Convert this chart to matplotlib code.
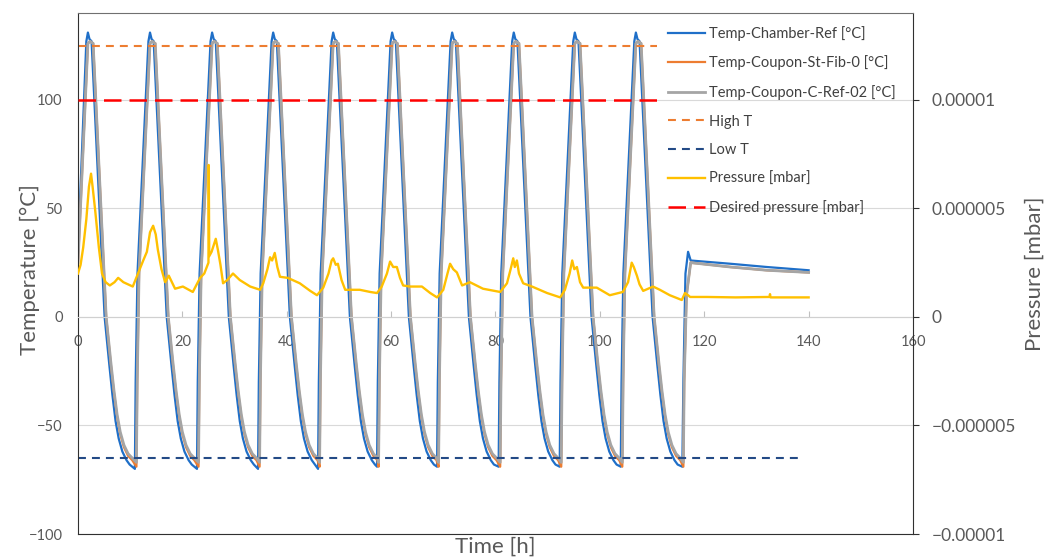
import numpy as np
import matplotlib
matplotlib.use('Agg')
import matplotlib.pyplot as plt

plt.rcParams['font.family'] = ['Lato', 'DejaVu Sans']

# values: time in h, temperature in °C
chamber_t = [0, 1.6, 1.9, 2.2, 2.6, 5.1, 6.0, 6.6, 7.2, 7.8, 8.5, 9.3, 9.9, 10.9,
             11.05, 11.4, 13.5, 13.8, 14.1, 14.5, 17.0, 17.9, 18.5, 19.1, 19.7, 20.4, 21.2, 21.8, 22.8,
             22.95, 23.3, 25.4, 25.7, 26.0, 26.4, 28.9, 29.8, 30.4, 31.0, 31.6, 32.3, 33.1, 33.7, 34.5,
             34.65, 35.0, 37.1, 37.4, 37.7, 38.1, 40.6, 41.5, 42.1, 42.7, 43.3, 44.0, 44.8, 45.4, 46.0,
             46.15, 46.5, 48.6, 48.9, 49.2, 49.6, 52.1, 53.0, 53.6, 54.2, 54.8, 55.5, 56.3, 56.9, 57.3,
             57.45, 57.8, 59.9, 60.2, 60.5, 60.9, 63.4, 64.3, 64.9, 65.5, 66.1, 66.8, 67.6, 68.2, 68.8,
             68.95, 69.3, 71.4, 71.7, 72.0, 72.4, 74.9, 75.8, 76.4, 77.0, 77.6, 78.3, 79.1, 79.7, 80.6,
             80.75, 81.1, 83.2, 83.5, 83.8, 84.2, 86.7, 87.6, 88.2, 88.8, 89.4, 90.1, 90.9, 91.5, 92.3,
             92.45, 92.8, 94.9, 95.2, 95.5, 95.9, 98.4, 99.3, 99.9, 100.5, 101.1, 101.8, 102.6, 103.2, 104.0,
             104.15, 104.5, 106.6, 106.9, 107.2, 107.6, 110.1, 111.0, 111.6, 112.2, 112.8, 113.5, 114.3, 114.9, 115.8,
             116.0, 116.4, 116.9, 117.4, 125, 132, 140]
chamber_temp = [30, 127, 131, 128, 127, 0, -22, -36, -48, -56, -62, -66, -68, -70,
                -30, 20, 127, 131, 128, 127, 0, -22, -36, -48, -56, -62, -66, -68, -70,
                -30, 20, 127, 131, 128, 127, 0, -22, -36, -48, -56, -62, -66, -68, -70,
                -30, 20, 127, 131, 128, 127, 0, -22, -36, -48, -56, -62, -66, -68, -70,
                -30, 20, 127, 131, 128, 127, 0, -22, -36, -48, -56, -62, -66, -68, -69,
                -30, 20, 127, 131, 128, 127, 0, -22, -36, -48, -56, -62, -66, -68, -69,
                -30, 20, 127, 131, 128, 127, 0, -22, -36, -48, -56, -62, -66, -68, -69,
                -30, 20, 127, 131, 128, 127, 0, -22, -36, -48, -56, -62, -66, -68, -69,
                -30, 20, 127, 131, 128, 127, 0, -22, -36, -48, -56, -62, -66, -68, -69,
                -30, 20, 127, 131, 128, 127, 0, -22, -36, -48, -56, -62, -66, -68, -69,
                -30, 20, 30, 26, 24.5, 23, 21.5]

coupon_t = [0, 1.9, 2.3, 2.9, 5.4, 6.3, 6.9, 7.5, 8.1, 8.8, 9.6, 10.4,
            11.2, 11.35, 11.7, 13.8, 14.2, 14.8, 17.3, 18.2, 18.8, 19.4, 20.0, 20.7, 21.5, 22.3,
            23.1, 23.25, 23.6, 25.7, 26.1, 26.7, 29.2, 30.1, 30.7, 31.3, 31.9, 32.6, 33.4, 34.2,
            34.8, 34.95, 35.3, 37.4, 37.8, 38.4, 40.9, 41.8, 42.4, 43.0, 43.6, 44.3, 45.1, 45.9,
            46.3, 46.45, 46.8, 48.9, 49.3, 49.9, 52.4, 53.3, 53.9, 54.5, 55.1, 55.8, 56.6, 57.4,
            57.6, 57.75, 58.1, 60.2, 60.6, 61.2, 63.7, 64.6, 65.2, 65.8, 66.4, 67.1, 67.9, 68.7,
            69.1, 69.25, 69.6, 71.7, 72.1, 72.7, 75.2, 76.1, 76.7, 77.3, 77.9, 78.6, 79.4, 80.2,
            80.9, 81.05, 81.4, 83.5, 83.9, 84.5, 87.0, 87.9, 88.5, 89.1, 89.7, 90.4, 91.2, 92.0,
            92.6, 92.75, 93.1, 95.2, 95.6, 96.2, 98.7, 99.6, 100.2, 100.8, 101.4, 102.1, 102.9, 103.7,
            104.3, 104.45, 104.8, 106.9, 107.3, 107.9, 110.4, 111.3, 111.9, 112.5, 113.1, 113.8, 114.6, 115.4,
            116.0, 116.15, 116.6, 117.4, 125, 132, 140]
st_fib_temp = [25, 126, 127, 126, 0, -22, -35, -46, -54, -60, -64, -66,
               -69, -30, 20, 126, 127, 126, 0, -22, -35, -46, -54, -60, -64, -66,
               -69, -30, 20, 126, 127, 126, 0, -22, -35, -46, -54, -60, -64, -66,
               -69, -30, 20, 126, 127, 126, 0, -22, -35, -46, -54, -60, -64, -66,
               -69, -30, 20, 126, 127, 126, 0, -22, -35, -46, -54, -60, -64, -66,
               -69, -30, 20, 126, 127, 126, 0, -22, -35, -46, -54, -60, -64, -66,
               -69, -30, 20, 126, 127, 126, 0, -22, -35, -46, -54, -60, -64, -66,
               -69, -30, 20, 126, 127, 126, 0, -22, -35, -46, -54, -60, -64, -66,
               -69, -30, 20, 126, 127, 126, 0, -22, -35, -46, -54, -60, -64, -66,
               -69, -30, 20, 126, 127, 126, 0, -22, -35, -46, -54, -60, -64, -66,
               -69, -30, 10, 25, 23, 21.5, 20.5]
c_ref_temp = [25, 126, 127, 126, 0, -21, -34, -45, -53, -59, -63, -65,
              -67, -30, 20, 126, 127, 126, 0, -21, -34, -45, -53, -59, -63, -65,
              -67, -30, 20, 126, 127, 126, 0, -21, -34, -45, -53, -59, -63, -65,
              -67, -30, 20, 126, 127, 126, 0, -21, -34, -45, -53, -59, -63, -65,
              -67, -30, 20, 126, 127, 126, 0, -21, -34, -45, -53, -59, -63, -65,
              -67, -30, 20, 126, 127, 126, 0, -21, -34, -45, -53, -59, -63, -65,
              -67, -30, 20, 126, 127, 126, 0, -21, -34, -45, -53, -59, -63, -65,
              -67, -30, 20, 126, 127, 126, 0, -21, -34, -45, -53, -59, -63, -65,
              -67, -30, 20, 126, 127, 126, 0, -21, -34, -45, -53, -59, -63, -65,
              -67, -30, 20, 126, 127, 126, 0, -21, -34, -45, -53, -59, -63, -65,
              -67, -30, 10, 25, 23, 21.5, 20.5]

# pressure, in 1e-6 mbar
press_t = [0, 0.5, 1.0, 1.6, 2.1, 2.5, 2.8, 3.3, 4.0, 4.6, 5.3, 6.1, 7.0, 7.7, 8.7, 10.5,
           11.5, 12.5, 13.2, 13.8, 14.4, 14.9, 15.3, 16.0, 16.7, 17.4, 18.0, 18.6, 20.1, 22.0,
           23.4, 24.2, 25.0, 25.05, 25.15, 25.6, 26.4, 26.8, 27.3, 27.8, 28.6, 29.7, 31.0, 33.0,
           34.9, 35.5, 36.3, 36.8, 37.2, 37.7, 38.2, 38.7, 40.2, 42.5, 44.5, 45.8,
           47.0, 48.0, 48.6, 48.9, 49.4, 49.8, 50.5, 51.2, 54.0, 56.0, 57.3,
           58.2, 59.2, 59.8, 60.4, 61.1, 61.7, 62.3, 63.6, 65.9, 67.5, 68.8,
           70.0, 70.8, 71.3, 71.9, 72.6, 73.6, 75.1, 77.6, 80.9,
           82.2, 82.9, 83.4, 83.7, 84.1, 84.5, 85.3, 87.0, 89.9, 92.4,
           93.3, 94.2, 94.7, 95.1, 95.6, 96.2, 96.8, 99.4, 101.9, 104.4,
           105.4, 106.1, 106.5, 107.1, 107.6, 108.3, 110.2, 111.5, 113.4, 115.7,
           116.3, 116.9, 117.3, 120.5, 126, 132.5, 132.6, 132.7, 140]
press_val = [2.0, 2.4, 3.2, 4.5, 6.0, 6.6, 6.0, 4.9, 3.2, 2.0, 1.6, 1.45, 1.6, 1.8, 1.6, 1.4,
             2.0, 2.6, 3.0, 3.9, 4.2, 3.8, 3.1, 2.2, 1.6, 1.9, 1.6, 1.3, 1.4, 1.15,
             1.8, 2.0, 2.5, 7.0, 2.8, 3.0, 3.6, 3.1, 2.4, 1.55, 1.7, 2.0, 1.7, 1.4,
             1.25, 1.55, 2.2, 2.75, 2.6, 2.95, 2.3, 1.85, 1.8, 1.55, 1.2, 1.0,
             1.35, 2.0, 2.6, 2.7, 2.4, 2.45, 1.7, 1.25, 1.25, 1.15, 1.1,
             1.4, 2.0, 2.55, 2.3, 2.3, 1.8, 1.45, 1.4, 1.4, 1.1, 0.9,
             1.25, 2.0, 2.45, 2.2, 2.05, 1.45, 1.6, 1.3, 1.15,
             1.55, 2.2, 2.7, 2.3, 2.6, 2.0, 1.55, 1.4, 1.1, 0.9,
             1.25, 2.0, 2.6, 2.2, 2.3, 1.6, 1.35, 1.35, 1.0, 1.15,
             1.6, 2.5, 2.3, 1.9, 1.5, 1.2, 1.4, 1.25, 1.0, 0.78,
             1.1, 1.0, 0.92, 0.92, 0.9, 0.92, 1.05, 0.9, 0.9]

high_t_span = [0, 111]
high_t = 125
low_t_span = [0, 139]
low_t = -65
desired_span = [0, 112]
desired_p = 1e-5

temp_ticks = [-100, -50, 0, 50, 100]
time_ticks = [0, 20, 40, 60, 80, 100, 120, 140, 160]
p_ticks = [-1e-5, -5e-6, 0, 5e-6, 1e-5]
p_labels = ['\u22120.00001', '\u22120.000005', '0', '0.000005', '0.00001']

txt = '#595959'

fig = plt.figure(figsize=(10.51, 5.59), dpi=100)
ax = fig.add_axes([0.0742, 0.0447, 0.7945, 0.932])
ax2 = ax.twinx()

ax.plot(chamber_t, chamber_temp, color='#1f6fc8', lw=1.6, label='Temp-Chamber-Ref [°C]')
ax.plot(coupon_t, st_fib_temp, color='#ed7d31', lw=1.6, label='Temp-Coupon-St-Fib-0 [°C]')
ax.plot(coupon_t, c_ref_temp, color='#a5a5a5', lw=2.0, label='Temp-Coupon-C-Ref-02 [°C]')
ax.plot(high_t_span, [high_t, high_t], color='#ed7d31', lw=1.5, dashes=(3.8, 2.9), label='High T')
ax.plot(low_t_span, [low_t, low_t], color='#234a86', lw=1.5, dashes=(3.8, 2.9), label='Low T')
ax2.plot(press_t, np.array(press_val) * 1e-6, color='#ffc000', lw=1.7, label='Pressure [mbar]')
ax2.plot(desired_span, [desired_p, desired_p], color='#ff0000', lw=1.8, dashes=(7, 3.2),
         label='Desired pressure [mbar]')

ax.set_xlim(0, 160)
ax.set_ylim(-100, 140)
ax2.set_ylim(-1e-5, 1.4e-5)

ax.set_xticks(time_ticks)
ax.set_yticks(temp_ticks)
ax2.set_yticks(p_ticks, p_labels)

ax.yaxis.grid(True, color='#d9d9d9', lw=0.8)
ax.set_axisbelow(True)

ax.spines['bottom'].set_position(('data', 0))
ax.spines['bottom'].set_color('#d0d0d0')
ax.spines['left'].set_color('#303030')
ax.spines['top'].set_visible(False)
ax.spines['right'].set_visible(False)
ax2.spines['left'].set_visible(False)
ax2.spines['top'].set_color('#707070')
ax2.spines['right'].set_color('#303030')
ax2.spines['bottom'].set_color('#303030')

ax.tick_params(axis='y', length=0, pad=11, labelsize=10.5, labelcolor=txt)
ax.tick_params(axis='x', direction='in', length=4, color='#c0c0c0', pad=13,
               labelsize=10.5, labelcolor=txt)
ax2.tick_params(axis='y', direction='out', length=4.5, color='#303030', pad=9,
                labelsize=12.5, labelcolor=txt)

ax.set_ylabel('Temperature [°C]', fontsize=16, color=txt, va='center')
ax.yaxis.set_label_coords(-0.0575, 0.507)
ax2.set_ylabel('Pressure [mbar]', fontsize=16, color=txt, va='center')
ax2.yaxis.set_label_coords(1.146, 0.5)
ax.set_xlabel('Time [h]', fontsize=16, color=txt, va='top')
ax.xaxis.set_label_coords(0.5, -0.006)

h1, l1 = ax.get_legend_handles_labels()
h2, l2 = ax2.get_legend_handles_labels()
leg = ax2.legend(h1 + h2, l1 + l2, loc='upper left', bbox_to_anchor=(668 / 1051, 1 - 26 / 559),
                 bbox_transform=fig.transFigure, frameon=False, fontsize=10.5,
                 labelspacing=1.0, handlelength=2.55, handletextpad=0.25,
                 borderpad=0, borderaxespad=0)
for t in leg.get_texts():
    t.set_color('#404040')

fig.savefig('out.png', dpi=100)
